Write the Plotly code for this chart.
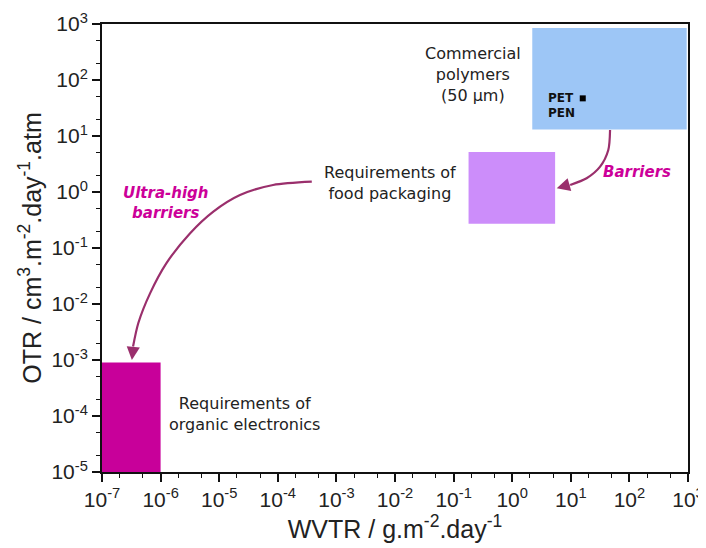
import numpy as np
import plotly.graph_objects as go

# ---- data (linear values) ----
tick_exp_x = list(range(-7, 4))
tick_exp_y = list(range(-5, 4))

box_names = ["Commercial polymers", "Food packaging", "Organic electronics"]
box_x0 = [2.2, 0.18, 1e-7]
box_x1 = [950, 5.4, 1e-6]
box_y0 = [13, 0.27, 1e-5]
box_y1 = [850, 5.2, 9e-4]
box_colors = ["#9DC6F6", "#CC8DFA", "#C8009A"]

pet_x = [16]
pet_y = [47]

# curved arrow paths (log10 coordinates)
ultra_path_x = [-3.42, -4.08, -4.645, -5.10, -5.50, -5.90, -6.18, -6.38, -6.47, -6.49]
ultra_path_y = [0.184, 0.125, -0.054, -0.35, -0.74, -1.27, -1.81, -2.34, -2.76, -3.0]
barrier_path_x = [1.67, 1.64, 1.50, 1.27, 0.99, 0.76]
barrier_path_y = [1.107, 0.75, 0.452, 0.245, 0.125, 0.066]

arrow_color = "#9A2F6C"
label_color = "#CC0099"

fig = go.Figure()

for n, x0, x1, y0, y1, c in zip(box_names, box_x0, box_x1, box_y0, box_y1, box_colors):
    fig.add_trace(go.Scatter(
        x=[x0, x1, x1, x0, x0], y=[y0, y0, y1, y1, y0],
        mode="lines", fill="toself", fillcolor=c,
        line=dict(width=0, color=c), name=n, hoverinfo="skip"))

for px, py in [(ultra_path_x, ultra_path_y), (barrier_path_x, barrier_path_y)]:
    fig.add_trace(go.Scatter(
        x=[10 ** v for v in px[:-1]], y=[10 ** v for v in py[:-1]],
        mode="lines", line=dict(color=arrow_color, width=2.2, shape="spline", smoothing=0.8),
        hoverinfo="skip"))

fig.add_trace(go.Scatter(x=pet_x, y=pet_y, mode="markers",
                         marker=dict(symbol="square", size=6, color="black")))

font_lbl = "DejaVu Sans, Verdana, sans-serif"
ann = []
def text(x, y, t, size=15, color="#222", xanchor="center", bold=False, italic=False, align="center"):
    if bold:
        t = "<b>" + t + "</b>"
    if italic:
        t = "<i>" + t + "</i>"
    ann.append(dict(x=x, y=y, xref="x", yref="y", text=t, showarrow=False,
                    font=dict(family=font_lbl, size=size, color=color),
                    xanchor=xanchor, yanchor="middle", align=align))

text(-0.67, 2.09, "Commercial<br>polymers<br>(50 µm)", size=16)
text(-2.09, 0.16, "Requirements of<br>food packaging", size=16)
text(-4.57, -3.96, "Requirements of<br>organic electronics", size=16)
text(-5.92, -0.20, "Ultra-high<br>barriers", size=15, color=label_color, bold=True, italic=True)
text(2.13, 0.36, "Barriers", size=15, color=label_color, bold=True, italic=True)
text(0.58, 1.68, "PET", size=12, color="#111", xanchor="left", bold=True)
text(0.58, 1.41, "PEN", size=12, color="#111", xanchor="left", bold=True)

# arrowheads
ann.append(dict(x=ultra_path_x[-1], y=ultra_path_y[-1], xref="x", yref="y",
                ax=1.5, ay=-14, showarrow=True, arrowhead=2, arrowsize=1.2,
                arrowwidth=2.2, arrowcolor=arrow_color, text="", standoff=0))
ann.append(dict(x=barrier_path_x[-1], y=barrier_path_y[-1], xref="x", yref="y",
                ax=14, ay=-4, showarrow=True, arrowhead=2, arrowsize=1.2,
                arrowwidth=2.2, arrowcolor=arrow_color, text="", standoff=0))

axis_common = dict(type="log", showgrid=False, zeroline=False, showline=True,
                   linecolor="#111", linewidth=2, mirror=True, ticks="outside",
                   ticklen=8, tickwidth=1.5, tickcolor="#111", automargin=False,
                   tickfont=dict(family="Liberation Sans, Arial", size=21, color="#222"),
                   minor=dict(ticks="outside", ticklen=4, tickwidth=1, tickcolor="#111", showgrid=False))

fig.update_layout(
    width=698, height=540,
    margin=dict(l=94, r=18, t=16, b=76),
    paper_bgcolor="white", plot_bgcolor="white",
    showlegend=False,
    annotations=ann,
    xaxis=dict(axis_common, range=[-7, 3],
               tickvals=[10 ** e for e in tick_exp_x],
               ticktext=["10<sup>%d</sup>" % e for e in tick_exp_x],
               title=dict(text="WVTR / g.m<sup>-2</sup>.day<sup>-1</sup>",
                          font=dict(family="Liberation Sans, Arial", size=25, color="#222"),
                          standoff=10)),
    yaxis=dict(axis_common, range=[-5, 3],
               tickvals=[10 ** e for e in tick_exp_y],
               ticktext=["10<sup>%d</sup>" % e for e in tick_exp_y],
               title=dict(text="OTR / cm<sup>3</sup>.m<sup>-2</sup>.day<sup>-1</sup>.atm",
                          font=dict(family="Liberation Sans, Arial", size=25, color="#222"),
                          standoff=3)),
)

fig.write_html("out.html")
